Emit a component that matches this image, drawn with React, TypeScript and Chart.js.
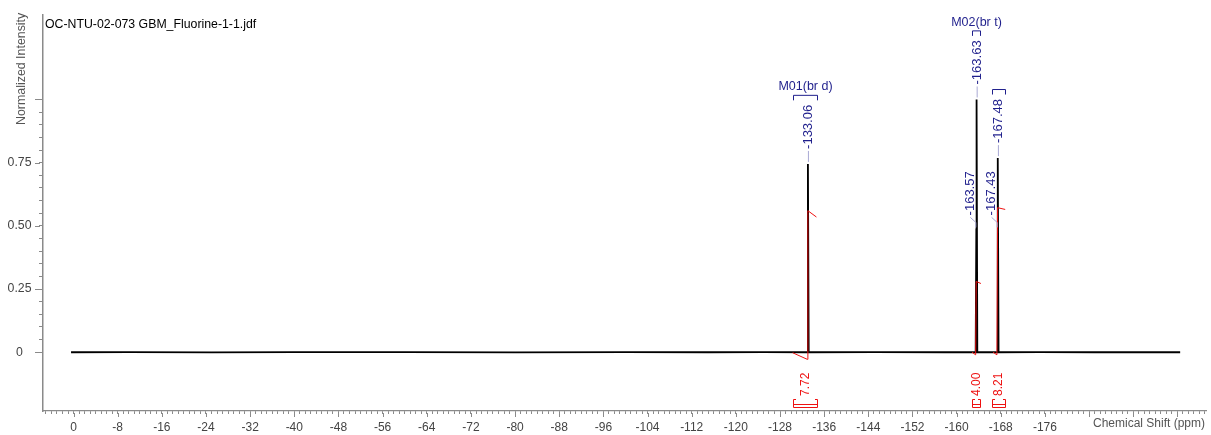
import React, { useEffect, useRef } from 'react';
import { Chart, registerables } from 'chart.js';

Chart.register(...registerables);

const FONT = '"Liberation Sans", Arial, Helvetica, sans-serif';
const NAVY = '#1f1f8c';
const LEADER = '#a9a9d4';
const RED = '#ee1111';
const AXIS = '#8a8a8a';

// 19F trace: chemical shift (ppm) and normalized intensity
const spectrumShift = [
  0.45, -10, -25, -40, -60, -80, -100, -115, -125, -132.9, -133.06, -133.2,
  -145, -158, -163.45, -163.57, -163.6, -163.63, -163.75, -167.33, -167.43,
  -167.455, -167.48, -167.6, -175, -185, -200.5,
];
const spectrumIntensity = [
  0, 0.0004, -0.0003, 0.0003, 0.0002, -0.0003, 0.0002, 0, 0.0003, 0, 0.745, 0,
  0.0002, 0, 0, 0.49, 0.46, 1.0, 0, 0, 0.49,
  0.45, 0.768, 0, 0.0003, 0, 0,
];

// picked peaks
const peakShift = [-133.06, -163.57, -163.63, -167.43, -167.48];
const peakIntensity = [0.745, 0.49, 1.0, 0.49, 0.768];
const peakLabel = ['-133.06', '-163.57', '-163.63', '-167.43', '-167.48'];
const peakBent = [false, true, false, true, false];

// multiplet / integration ranges
const rangeStart = [-130.3, -162.8, -166.4];
const rangeEnd = [-134.7, -164.2, -168.75];
const rangeName = ['M01(br d)', 'M02(br t)', ''];
const rangeIntegral = ['7.72', '4.00', '8.21'];
const rangeLabelPeak = [0, 2, 4];

// integral curves
const integral1Shift = [-130.3, -132.95, -133.05, -134.6];
const integral1Value = [-0.002, -0.028, 0.56, 0.535];
const integral2Shift = [-162.8, -163.45, -163.55, -164.4];
const integral2Value = [0.0, -0.01, 0.28, 0.272];
const integral3Shift = [-166.6, -167.3, -167.42, -168.8];
const integral3Value = [0.0, -0.01, 0.572, 0.565];

const yMajor = [0, 0.25, 0.5, 0.75, 1.0];

const toPoints = (xs: number[], ys: number[]) => xs.map((x, i) => ({ x, y: ys[i] }));

const decorations = {
  id: 'spectrumDecorations',
  afterDraw(chart: any) {
    const { ctx, chartArea, scales } = chart;
    const xs = scales.x;
    const ys = scales.y;
    ctx.save();

    // longer major ticks
    ctx.strokeStyle = AXIS;
    ctx.lineWidth = 1;
    ctx.beginPath();
    yMajor.forEach((v) => {
      const py = Math.round(ys.getPixelForValue(v)) + 0.5;
      ctx.moveTo(chartArea.left - 8, py);
      ctx.lineTo(chartArea.left - 3, py);
    });
    for (let v = 0; v >= -205; v -= 8) {
      const px = Math.round(xs.getPixelForValue(v)) + 0.5;
      ctx.moveTo(px, chartArea.bottom + 2);
      ctx.lineTo(px, chartArea.bottom + 6);
    }
    ctx.stroke();

    // titles
    ctx.fillStyle = '#000';
    ctx.font = `12.3px ${FONT}`;
    ctx.textAlign = 'left';
    ctx.textBaseline = 'alphabetic';
    ctx.fillText('OC-NTU-02-073 GBM_Fluorine-1-1.jdf', 45, 28);

    ctx.fillStyle = '#555';
    ctx.font = `12px ${FONT}`;
    ctx.textAlign = 'right';
    ctx.fillText('Chemical Shift (ppm)', 1205, 427);

    ctx.save();
    ctx.translate(24.5, 125);
    ctx.rotate(-Math.PI / 2);
    ctx.textAlign = 'left';
    ctx.font = `12.4px ${FONT}`;
    ctx.fillText('Normalized Intensity', 0, 0);
    ctx.restore();

    // peak labels with leaders
    ctx.font = `13px ${FONT}`;
    const labelTop: number[] = [];
    peakShift.forEach((s, i) => {
      const x = xs.getPixelForValue(s);
      const top = ys.getPixelForValue(peakIntensity[i]);
      const w = ctx.measureText(peakLabel[i]).width;
      ctx.strokeStyle = LEADER;
      ctx.lineWidth = 1;
      ctx.beginPath();
      let tx: number;
      let start: number;
      if (peakBent[i]) {
        tx = x - 6;
        start = top - 13;
        ctx.moveTo(tx, top - 11);
        ctx.lineTo(x - 0.5, top - 6);
        ctx.lineTo(x - 0.5, top - 1);
      } else {
        tx = x + 0.5;
        start = top - 15;
        ctx.moveTo(tx, top - 2);
        ctx.lineTo(tx, top - 13);
      }
      ctx.stroke();
      ctx.save();
      ctx.translate(tx, start);
      ctx.rotate(-Math.PI / 2);
      ctx.fillStyle = NAVY;
      ctx.textAlign = 'left';
      ctx.textBaseline = 'middle';
      ctx.fillText(peakLabel[i], 0, 0);
      ctx.restore();
      labelTop[i] = start - w;
    });

    // multiplet brackets and names
    rangeStart.forEach((s, i) => {
      const x1 = Math.round(xs.getPixelForValue(s)) + 0.5;
      const x2 = Math.round(xs.getPixelForValue(rangeEnd[i])) + 0.5;
      const bottom = labelTop[rangeLabelPeak[i]] - 4.5;
      const top = bottom - 5;
      ctx.strokeStyle = NAVY;
      ctx.lineWidth = 1;
      ctx.beginPath();
      ctx.moveTo(x1, bottom);
      ctx.lineTo(x1, top);
      ctx.lineTo(x2, top);
      ctx.lineTo(x2, bottom);
      ctx.stroke();
      if (rangeName[i]) {
        ctx.fillStyle = NAVY;
        ctx.font = `12.5px ${FONT}`;
        ctx.textAlign = 'center';
        ctx.textBaseline = 'middle';
        ctx.fillText(rangeName[i], (x1 + x2) / 2, top - 8.5);
      }

      // integration bracket and value
      const b = chartArea.bottom;
      ctx.strokeStyle = RED;
      ctx.beginPath();
      ctx.moveTo(x1 + 2.5, b - 11.5);
      ctx.lineTo(x1, b - 11.5);
      ctx.lineTo(x1, b - 3.5);
      ctx.moveTo(x2 - 2.5, b - 11.5);
      ctx.lineTo(x2, b - 11.5);
      ctx.lineTo(x2, b - 3.5);
      ctx.moveTo(x1, b - 6.5);
      ctx.lineTo(x2, b - 6.5);
      ctx.moveTo(x1, b - 3.5);
      ctx.lineTo(x2, b - 3.5);
      ctx.stroke();
      ctx.save();
      ctx.translate((x1 + x2) / 2, b - 15);
      ctx.rotate(-Math.PI / 2);
      ctx.fillStyle = RED;
      ctx.font = `12px ${FONT}`;
      ctx.textAlign = 'left';
      ctx.textBaseline = 'middle';
      ctx.fillText(rangeIntegral[i], 0, 0);
      ctx.restore();
    });

    ctx.restore();
  },
};

export default function App() {
  const ref = useRef<HTMLCanvasElement>(null);

  useEffect(() => {
    const canvas = ref.current;
    if (!canvas) return;
    const integralStyle = {
      borderColor: RED,
      borderWidth: 1,
      pointRadius: 0,
      tension: 0,
      order: 1,
    };
    const chart = new Chart(canvas, {
      type: 'line',
      data: {
        datasets: [
          {
            data: toPoints(spectrumShift, spectrumIntensity),
            borderColor: '#000',
            borderWidth: 1.8,
            pointRadius: 0,
            tension: 0,
            order: 2,
          },
          { data: toPoints(integral1Shift, integral1Value), ...integralStyle },
          { data: toPoints(integral2Shift, integral2Value), ...integralStyle },
          { data: toPoints(integral3Shift, integral3Value), ...integralStyle },
        ],
      },
      options: {
        responsive: false,
        animation: false,
        devicePixelRatio: 1,
        events: [],
        layout: { padding: { top: 13, right: 4, left: 0, bottom: 0 } },
        plugins: { legend: { display: false }, tooltip: { enabled: false } },
        scales: {
          x: {
            type: 'linear',
            reverse: true,
            min: -205.3,
            max: 5.53,
            afterFit: (s: any) => {
              s.height = 24;
            },
            border: { display: true, color: AXIS, width: 1.2 },
            grid: { drawOnChartArea: false, tickLength: 3, color: AXIS, tickColor: AXIS },
            ticks: {
              stepSize: 1,
              includeBounds: false,
              autoSkip: false,
              maxRotation: 0,
              minRotation: 0,
              padding: 6,
              color: '#444',
              font: { family: FONT, size: 12 },
              callback: (v: any) => {
                const n = Math.round(Number(v));
                return n % 8 === 0 && n <= 0 && n >= -176 ? String(n) : '';
              },
            },
          },
          y: {
            min: -0.2323,
            max: 1.3346,
            afterFit: (s: any) => {
              s.width = 43;
            },
            afterBuildTicks: (s: any) => {
              s.ticks = s.ticks.filter((t: any) => t.value > -1e-6 && t.value < 1.0001);
            },
            border: { display: true, color: AXIS, width: 1.5 },
            grid: { drawOnChartArea: false, tickLength: 4, color: AXIS, tickColor: AXIS },
            ticks: {
              stepSize: 0.05,
              includeBounds: false,
              autoSkip: false,
              crossAlign: 'center',
              padding: 7.5,
              color: '#444',
              font: { family: FONT, size: 12.3 },
              callback: (v: any) => {
                const n = Number(v);
                if (Math.abs(n) < 1e-6) return '0';
                const q = n / 0.25;
                if (Math.abs(q - Math.round(q)) < 1e-6 && n < 0.99) return n.toFixed(2);
                return '';
              },
            },
          },
        },
      },
      plugins: [decorations],
    } as any);
    return () => chart.destroy();
  }, []);

  return (
    <div style={{ position: 'fixed', left: 0, top: 0, width: 1211, height: 435, background: '#fff' }}>
      <canvas ref={ref} width={1211} height={435} style={{ display: 'block' }} />
    </div>
  );
}
